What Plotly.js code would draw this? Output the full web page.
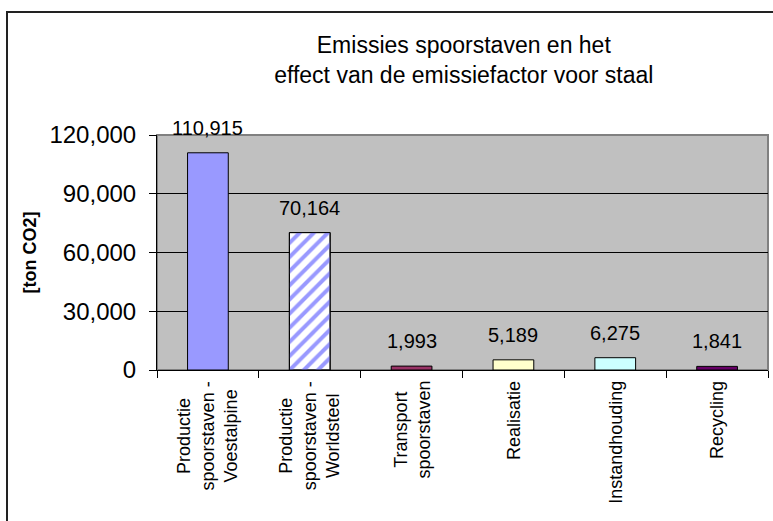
<!DOCTYPE html>
<html>
<head>
<meta charset="utf-8">
<script src="https://cdn.plot.ly/plotly-3.0.1.min.js"></script>
<style>
html,body{margin:0;padding:0;background:#fff;overflow:hidden;}
#frame{position:absolute;left:6px;top:11px;width:900px;height:700px;border:2px solid #222;box-sizing:border-box;}
#chart{position:absolute;left:0;top:0;width:773px;height:521px;}
</style>
</head>
<body>
<div id="frame"></div>
<div id="chart"></div>
<script>
const categories = [
  "Productie<br>spoorstaven -<br>Voestalpine",
  "Productie<br>spoorstaven -<br>Worldsteel",
  "Transport<br>spoorstaven",
  "Realisatie",
  "Instandhouding",
  "Recycling"
];
const values = [110915, 70164, 1993, 5189, 6275, 1841];
const barColors = ["#9999FF", "#FFFFFF", "#993366", "#FFFFCC", "#CCFFFF", "#660066"];
const stripedIndex = 1;   // Worldsteel bar: blue diagonal stripes on white
const yTicks = [0, 30000, 60000, 90000, 120000];

const font = "Liberation Sans, Arial, sans-serif";

const baseTrace = {
  type: "bar",
  x: categories,
  y: values,
  width: 0.4,
  marker: {color: barColors, line: {color: "#000", width: 1}},
  hoverinfo: "none"
};

const stripeTrace = {
  type: "bar",
  x: [categories[stripedIndex]],
  y: [values[stripedIndex]],
  width: 0.4,
  marker: {
    color: "rgba(255,255,255,0)",
    line: {color: "#000", width: 1},
    pattern: {shape: "/", fillmode: "overlay", fgcolor: "#9999FF", fgopacity: 1, size: 10, solidity: 0.4}
  },
  hoverinfo: "none"
};

const valueLabels = categories.map((c, i) => ({
  x: c, y: values[i], xref: "x", yref: "y",
  text: values[i].toLocaleString("en-US"),
  showarrow: false, yanchor: "bottom", yshift: 12,
  font: {family: font, size: 20, color: "#000"}
}));

const catLabels = categories.map(c => ({
  x: c, y: 0, xref: "x", yref: "paper",
  text: c, showarrow: false, textangle: -90,
  xanchor: "center", yanchor: "top", yshift: -9, align: "center",
  font: {family: font, size: 18, color: "#000"}
}));

const layout = {
  width: 773, height: 521,
  margin: {l: 157, r: 5, t: 135, b: 151, pad: 0},
  paper_bgcolor: "rgba(0,0,0,0)",
  plot_bgcolor: "#C0C0C0",
  showlegend: false,
  barmode: "overlay",
  title: {
    text: "Emissies spoorstaven en het<br>effect van de emissiefactor voor staal",
    font: {family: font, size: 23, color: "#000"},
    x: 0.6, xanchor: "center", y: 0.899, yanchor: "top"
  },
  xaxis: {
    type: "category",
    showticklabels: false,
    showline: true, linecolor: "#000", linewidth: 1,
    ticks: "outside", tickson: "boundaries", ticklen: 7, tickcolor: "#000",
    showgrid: false, automargin: false, fixedrange: true
  },
  yaxis: {
    range: [0, 120000],
    tickvals: yTicks,
    tickformat: ",",
    tickfont: {family: font, size: 24, color: "#000"},
    ticklabelstandoff: 8,
    showline: true, linecolor: "#000", linewidth: 1,
    ticks: "outside", ticklen: 7, tickcolor: "#000",
    showgrid: true, gridcolor: "#000", gridwidth: 1,
    zeroline: false, automargin: false, fixedrange: true,
    title: {text: "<b>[ton CO2]</b>", font: {family: font, size: 18, color: "#000"}, standoff: 8}
  },
  annotations: valueLabels.concat(catLabels),
  shapes: [{
    type: "rect", xref: "paper", yref: "paper", x0: 0, x1: 1, y0: 0, y1: 1,
    line: {color: "#808080", width: 2}, layer: "below"
  }]
};

Plotly.newPlot("chart", [baseTrace, stripeTrace], layout, {staticPlot: true, displayModeBar: false});
</script>
</body>
</html>
